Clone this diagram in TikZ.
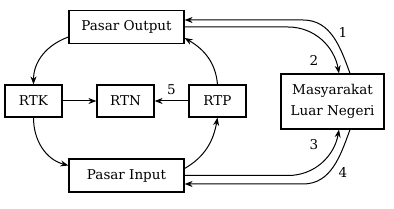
\documentclass[tikz,border=0pt]{standalone}
\usepackage{fontspec}
\setmainfont{DejaVu Serif}
\usetikzlibrary{arrows.meta}

\begin{document}
\begin{tikzpicture}[x=1pt, y=1pt, font=\fontsize{13.5}{21}\selectfont,
    box/.style={draw, line width=1.2pt, inner sep=0pt, minimum height=32pt},
    arr/.style={-{Stealth[length=8pt,width=6pt]}, line width=1pt},
    num/.style={inner sep=0pt}]
        \useasboundingbox (0,0) rectangle (394,209);
        % pasar
        \node[box, minimum width=115pt, minimum height=33pt] (output) at (126.5,182) {Pasar Output};
        \node[box, minimum width=115pt, minimum height=33pt] (input) at (126.5,33.5) {Pasar Input};
        % rumah tangga
        \node[box, minimum width=57pt] (rtk) at (33.5,108) {RTK};
        \node[box, minimum width=57pt] (rtn) at (125.5,108) {RTN};
        \node[box, minimum width=57pt] (rtp) at (217.5,108) {RTP};
        \node[box, minimum width=103pt, minimum height=55pt, align=center] (luar) at (332.5,107.5) {Masyarakat\\Luar Negeri};
        % arus dalam negeri
        \draw[arr] ([yshift=-10pt]output.west) to[out=200,in=90] (rtk.north);
        \draw[arr] (rtk.south) to[out=270,in=165] ([yshift=10pt]input.west);
        \draw[arr] ([yshift=7pt]input.east) to[out=30,in=260] (rtp.south);
        \draw[arr] (rtp.north) to[out=95,in=-30] ([yshift=-11pt]output.east);
        \draw[arr] (rtk) -- (rtn);
        \draw[arr] (rtp) -- (rtn) node[num, midway, above=6pt] (n5) {5};
        % arus luar negeri
        \draw[arr] ([xshift=17.5pt]luar.north) to[out=110,in=0] (303,189) -- ([yshift=7pt]output.east);
        \draw[arr] (output.east) -- (288,182) to[out=0,in=100] ([xshift=6.5pt]luar.north);
        \draw[arr] (input.east) -- (288,33.5) to[out=0,in=260] ([xshift=6.5pt]luar.south);
        \draw[arr] ([xshift=17.5pt]luar.south) to[out=250,in=0] (303,25) -- ([yshift=-8.5pt]input.east);
        \node[num] (n1) at (343,177) {1};
        \node[num] (n2) at (314,149) {2};
        \node[num] (n3) at (314,64) {3};
        \node[num] (n4) at (343,37) {4};
\end{tikzpicture}
\end{document}
